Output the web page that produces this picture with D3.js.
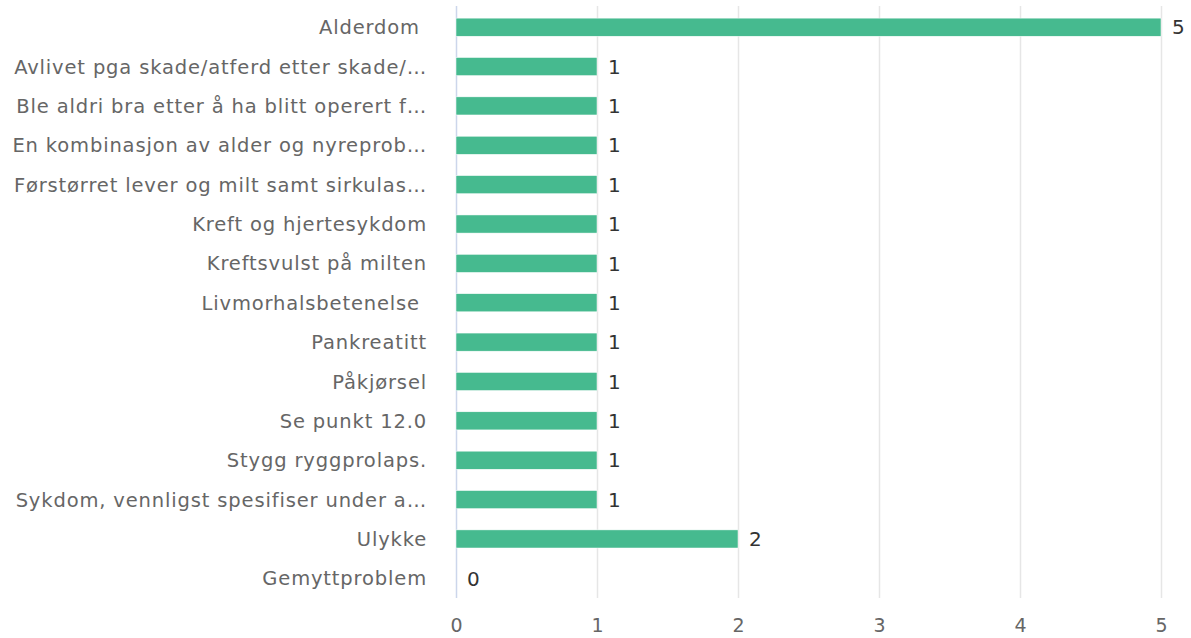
<!DOCTYPE html>
<html>
<head>
<meta charset="utf-8">
<script src="https://cdn.jsdelivr.net/npm/d3@7"></script>
<style>
  body { margin: 0; background: #fff; }
  text { font-family: "DejaVu Sans", Verdana, sans-serif; }
</style>
</head>
<body>
<script>
// chart size
let w = 1191;
let h = 638;

// data
let categories = [
  "Alderdom ",
  "Avlivet pga skade/atferd etter skade/…",
  "Ble aldri bra etter å ha blitt operert f…",
  "En kombinasjon av alder og nyreprob…",
  "Førstørret lever og milt samt sirkulas…",
  "Kreft og hjertesykdom",
  "Kreftsvulst på milten",
  "Livmorhalsbetenelse ",
  "Pankreatitt",
  "Påkjørsel",
  "Se punkt 12.0",
  "Stygg ryggprolaps.",
  "Sykdom, vennligst spesifiser under a…",
  "Ulykke",
  "Gemyttproblem"
];
let counts = [5, 1, 1, 1, 1, 1, 1, 1, 1, 1, 1, 1, 1, 2, 0];
let xTicks = [0, 1, 2, 3, 4, 5];

let plotLeft = 456, plotRight = 1161, plotTop = 7.5, plotBottom = 598;

let x = d3.scaleLinear().domain([0, 5]).range([plotLeft, plotRight]);
let y = d3.scaleBand().domain(categories).range([plotTop, plotBottom]).paddingInner(0.54).paddingOuter(0.27);

let svg = d3.select("body").append("svg")
  .attr("width", w)
  .attr("height", h);

// grid lines
svg.append("g")
  .selectAll("line")
  .data(xTicks.slice(1))
  .enter()
  .append("line")
  .attr("x1", d => x(d) + 0.5)
  .attr("x2", d => x(d) + 0.5)
  .attr("y1", 6)
  .attr("y2", plotBottom)
  .style("stroke", "#e6e6e6")
  .style("stroke-width", 1.5);

// category axis line
svg.append("line")
  .attr("x1", plotLeft + 0.5).attr("x2", plotLeft + 0.5)
  .attr("y1", 6).attr("y2", plotBottom)
  .style("stroke", "#ccd6eb")
  .style("stroke-width", 1.5);

// bars
svg.append("g")
  .selectAll("rect")
  .data(counts)
  .enter()
  .append("rect")
  .attr("x", x(0))
  .attr("y", (d, i) => y(categories[i]))
  .attr("width", d => x(d) - x(0))
  .attr("height", y.bandwidth())
  .style("fill", "#46ba8f")
  .style("stroke", "#ffffff")
  .style("stroke-width", 0.5);

// value labels
svg.append("g")
  .selectAll("text")
  .data(counts)
  .enter()
  .append("text")
  .attr("x", d => x(d) + 11)
  .attr("y", (d, i) => y(categories[i]) + y.bandwidth() / 2)
  .attr("dy", "0.36em")
  .style("font-size", "20px")
  .style("fill", "#333")
  .text(d => d);

// category labels
svg.append("g")
  .selectAll("text")
  .data(categories)
  .enter()
  .append("text")
  .attr("x", 427)
  .attr("y", d => y(d) + y.bandwidth() / 2)
  .attr("dy", "0.36em")
  .attr("text-anchor", "end")
  .attr("xml:space", "preserve")
  .style("white-space", "pre")
  .style("font-size", "19.5px")
  .style("letter-spacing", "0.85px")
  .style("fill", "#666")
  .text(d => d);

// x axis labels
let xAxis = d3.axisBottom(x).tickValues(xTicks).tickSize(0).tickPadding(0).tickFormat(d3.format("d"));
let gx = svg.append("g")
  .attr("transform", "translate(0," + 618 + ")")
  .call(xAxis);
gx.select(".domain").remove();
gx.selectAll("text")
  .style("font-size", "19px")
  .style("font-family", "\"DejaVu Sans\", Verdana, sans-serif")
  .style("fill", "#666");
</script>
</body>
</html>
